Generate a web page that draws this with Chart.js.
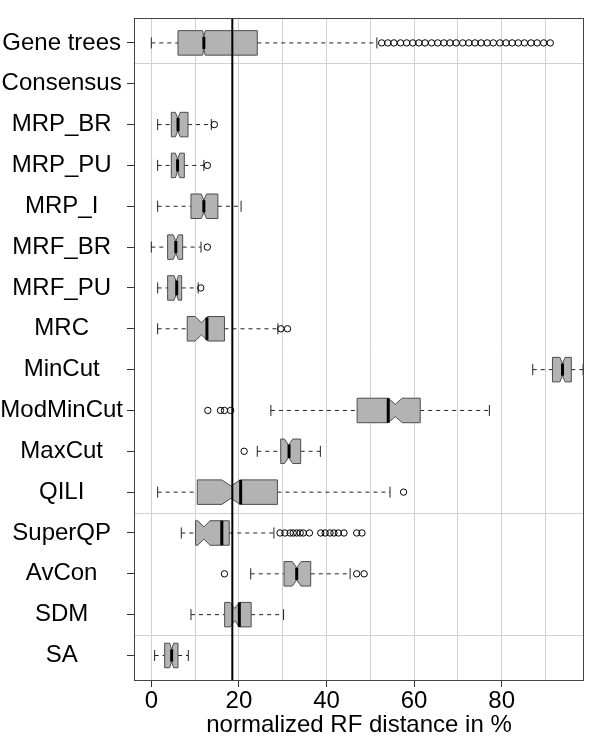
<!DOCTYPE html>
<html>
<head>
<meta charset="utf-8">
<script src="https://cdn.jsdelivr.net/npm/chart.js@4/dist/chart.umd.min.js"></script>
<style>
  html, body { margin: 0; padding: 0; background: #fff; }
</style>
</head>
<body>
<canvas id="chart" width="600" height="741"></canvas>
<script>
// categories top to bottom
const categories = ['Gene trees', 'Consensus', 'MRP_BR', 'MRP_PU', 'MRP_I', 'MRF_BR', 'MRF_PU', 'MRC',
  'MinCut', 'ModMinCut', 'MaxCut', 'QILI', 'SuperQP', 'AvCon', 'SDM', 'SA'];

// box plot statistics (Consensus has no box)
const whiskerLow  = [0,    null, 1.45, 1.45, 1.45, 0,    1.45, 1.45, 87.1, 27.3, 24.2,  1.45, 6.85, 22.7, 9.06,  0.76];
const boxLow      = [6.1,  null, 4.57, 4.57, 9.06, 3.73, 3.73, 8.2,  91.6, 47.0, 29.55, 10.5, 10.1, 30.3, 16.75, 3.05];
const notchLow    = [11.7, null, 5.5,  5.5,  11.4, 5.0,  5.2,  10.0, 93.3, 54.1, 30.4,  16.1, 10.6, 32.2, 18.0,  4.2];
const medians     = [12.0, null, 6.1,  6.0,  12.0, 5.6,  5.8,  12.7, 93.9, 54.1, 31.45, 20.4, 16.1, 33.2, 20.1,  4.65];
const notchHigh   = [12.3, null, 6.6,  6.5,  12.6, 6.2,  6.2,  12.9, 94.5, 57.3, 32.3,  20.3, 13.4, 34.2, 20.1,  5.1];
const boxHigh     = [24.2, null, 8.38, 7.54, 15.2, 7.16, 6.93, 16.7, 95.9, 61.4, 34.1,  28.8, 17.8, 36.4, 22.8,  6.1];
const whiskerHigh = [51.5, null, 13.7, 12.0, 20.5, 11.35, 10.7, 28.9, 98.6, 77.2, 38.6, 54.5, 28.0, 45.4, 30.2,  8.45];

const outliers = [
  [52.6, 54.0, 55.4, 56.9, 58.3, 59.7, 61.1, 62.5, 64.0, 65.4, 66.8, 68.2, 69.6, 71.1,
   72.5, 73.9, 75.3, 76.7, 78.1, 79.6, 81.0, 82.4, 83.8, 85.2, 86.7, 88.1, 89.6, 91.1],
  [], [14.4], [12.8], [], [12.8], [11.3], [29.6, 31.1], [], [12.9, 15.8, 16.7, 18.1], [21.2], [57.6],
  [29.4, 30.5, 31.7, 32.4, 33.2, 34.0, 34.7, 36.1, 38.7, 39.7, 40.8, 41.7, 42.7, 44.0, 46.9, 48.1],
  [16.7, 46.9, 48.6], [], []
];

const referenceValue = 18.5;
const gridValues = [0, 10, 20, 30, 40, 50, 60, 70, 80, 90];
const tickLabels = [0, 20, 40, 60, 80];
const separators = [1.5, 12.5, 15.5];

const boxWidth = 0.6; // in category units

Chart.defaults.font.family = "'Liberation Sans', Arial, sans-serif";

function line(ctx, x1, y1, x2, y2) {
  ctx.beginPath();
  ctx.moveTo(x1, y1);
  ctx.lineTo(x2, y2);
  ctx.stroke();
}

const boxPlugin = {
  id: 'boxes',
  beforeDatasetsDraw(chart) {
    const { ctx, chartArea: a, scales: { x, y } } = chart;
    const X = v => x.getPixelForValue(v);
    ctx.save();

    // horizontal separators
    ctx.strokeStyle = '#d0d0d0';
    ctx.lineWidth = 1;
    separators.forEach(v => {
      const py = Math.round(y.getPixelForValue(v)) + 0.5;
      line(ctx, a.left, py, a.right, py);
    });

    categories.forEach((c, i) => {
      if (boxLow[i] == null) return;
      const yc = y.getPixelForValue(i + 1);
      const h = Math.abs(y.getPixelForValue(i + 1 + boxWidth / 2) - yc);
      const nd = h / 2;
      const staple = h * 0.45;

      // whiskers
      ctx.strokeStyle = '#222';
      ctx.lineWidth = 1;
      ctx.setLineDash([4, 4]);
      line(ctx, X(whiskerLow[i]), yc, X(boxLow[i]), yc);
      line(ctx, X(boxHigh[i]), yc, X(whiskerHigh[i]), yc);
      ctx.setLineDash([]);
      line(ctx, X(whiskerLow[i]), yc - staple, X(whiskerLow[i]), yc + staple);
      line(ctx, X(whiskerHigh[i]), yc - staple, X(whiskerHigh[i]), yc + staple);

      // notched box
      const nv = (notchLow[i] + notchHigh[i]) / 2;
      ctx.beginPath();
      ctx.moveTo(X(boxLow[i]), yc - h);
      ctx.lineTo(X(notchLow[i]), yc - h);
      ctx.lineTo(X(nv), yc - h + nd);
      ctx.lineTo(X(notchHigh[i]), yc - h);
      ctx.lineTo(X(boxHigh[i]), yc - h);
      ctx.lineTo(X(boxHigh[i]), yc + h);
      ctx.lineTo(X(notchHigh[i]), yc + h);
      ctx.lineTo(X(nv), yc + h - nd);
      ctx.lineTo(X(notchLow[i]), yc + h);
      ctx.lineTo(X(boxLow[i]), yc + h);
      ctx.closePath();
      ctx.fillStyle = '#b3b3b3';
      ctx.fill();
      ctx.strokeStyle = '#4d4d4d';
      ctx.lineWidth = 1;
      ctx.stroke();

      // median
      let hh = h;
      const halfN = (notchHigh[i] - notchLow[i]) / 2;
      if (halfN > 0 && Math.abs(medians[i] - nv) < halfN) {
        hh = h - nd * (1 - Math.abs(medians[i] - nv) / halfN);
      }
      ctx.strokeStyle = '#000';
      ctx.lineWidth = 3;
      line(ctx, X(medians[i]), yc - hh, X(medians[i]), yc + hh);
    });
    ctx.restore();
  },
  afterDatasetsDraw(chart) {
    const { ctx, chartArea: a, scales: { x } } = chart;
    ctx.save();
    ctx.strokeStyle = '#000';
    ctx.lineWidth = 2;
    const px = x.getPixelForValue(referenceValue);
    line(ctx, px, a.top, px, a.bottom);
    ctx.strokeStyle = '#444';
    ctx.lineWidth = 1;
    ctx.strokeRect(Math.round(a.left) + 0.5, Math.round(a.top) + 0.5,
      Math.round(a.right - a.left) - 1, Math.round(a.bottom - a.top));
    ctx.restore();
  }
};

const outlierPoints = [];
outliers.forEach((list, i) => list.forEach(v => outlierPoints.push({ x: v, y: i + 1 })));

new Chart(document.getElementById('chart'), {
  type: 'scatter',
  data: {
    datasets: [{
      label: 'outliers',
      data: outlierPoints,
      pointStyle: 'circle',
      pointRadius: 3.2,
      borderColor: '#000',
      backgroundColor: 'rgba(0,0,0,0)',
      borderWidth: 1
    }]
  },
  options: {
    responsive: false,
    animation: false,
    layout: { padding: { top: 16, right: 16, left: 0, bottom: 0 } },
    plugins: { legend: { display: false }, tooltip: { enabled: false } },
    scales: {
      x: {
        type: 'linear',
        min: -3.95,
        max: 98.8,
        afterBuildTicks: s => { s.ticks = gridValues.map(v => ({ value: v })); },
        afterFit: s => { s.height = 61; },
        border: { display: false },
        grid: {
          color: '#d0d0d0',
          lineWidth: 1,
          tickLength: 7,
          tickColor: c => tickLabels.includes(c.tick && c.tick.value) ? '#333' : 'rgba(0,0,0,0)'
        },
        ticks: {
          autoSkip: false,
          maxRotation: 0,
          padding: 0,
          color: '#000',
          font: { size: 24 },
          callback: v => tickLabels.includes(v) ? String(v) : ''
        },
        title: {
          display: true,
          text: 'normalized RF distance in %',
          color: '#000',
          font: { size: 24 },
          padding: { top: 0, bottom: 1 }
        }
      },
      y: {
        type: 'linear',
        min: 0.4,
        max: 16.6,
        reverse: true,
        afterBuildTicks: s => { s.ticks = categories.map((c, i) => ({ value: i + 1 })); },
        afterFit: s => { s.width = 134; },
        border: { display: false },
        grid: { drawOnChartArea: false, drawTicks: true, tickLength: 7, tickColor: '#333' },
        ticks: {
          autoSkip: false,
          crossAlign: 'center',
          padding: 4,
          color: '#000',
          font: { size: 24 },
          callback: v => categories[v - 1]
        }
      }
    }
  },
  plugins: [boxPlugin]
});
</script>
</body>
</html>
